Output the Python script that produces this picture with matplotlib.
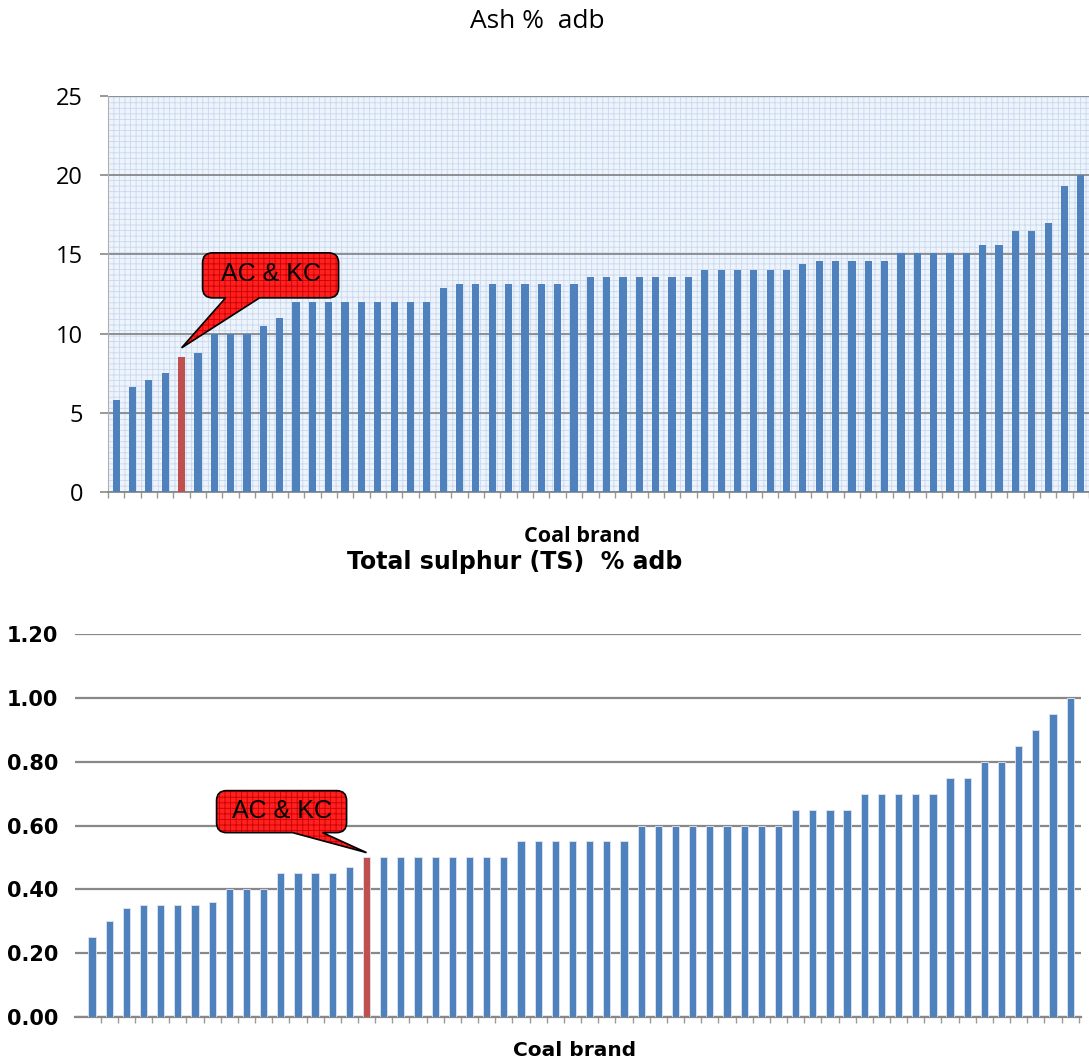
import numpy as np
import matplotlib
matplotlib.use("Agg")
import matplotlib.pyplot as plt
from matplotlib.path import Path
from matplotlib.patches import PathPatch, Rectangle
from matplotlib.transforms import ScaledTranslation, Affine2D

# ---------------- data ----------------
ash_values = [5.8, 6.6, 7.1, 7.5, 8.5, 8.8, 10.0, 10.0, 10.0, 10.5,
              11.0, 12.0, 12.0, 12.0, 12.0, 12.0, 12.0, 12.0, 12.0, 12.0,
              12.9, 13.1, 13.1, 13.1, 13.1, 13.1, 13.1, 13.1, 13.1, 13.6,
              13.6, 13.6, 13.6, 13.6, 13.6, 13.6, 14.0, 14.0, 14.0, 14.0,
              14.0, 14.0, 14.4, 14.6, 14.6, 14.6, 14.6, 14.6, 15.1, 15.1,
              15.1, 15.1, 15.1, 15.6, 15.6, 16.5, 16.5, 17.0, 19.3, 20.0]
ash_highlight = 4

ts_values = [0.25, 0.30, 0.34, 0.35, 0.35, 0.35, 0.35, 0.36, 0.40, 0.40,
             0.40, 0.45, 0.45, 0.45, 0.45, 0.47, 0.50, 0.50, 0.50, 0.50,
             0.50, 0.50, 0.50, 0.50, 0.50, 0.55, 0.55, 0.55, 0.55, 0.55,
             0.55, 0.55, 0.60, 0.60, 0.60, 0.60, 0.60, 0.60, 0.60, 0.60,
             0.60, 0.65, 0.65, 0.65, 0.65, 0.70, 0.70, 0.70, 0.70, 0.70,
             0.75, 0.75, 0.80, 0.80, 0.85, 0.90, 0.95, 1.00]
ts_highlight = 16

ash_yticks = [0, 5, 10, 15, 20, 25]
ts_yticks = [0.0, 0.2, 0.4, 0.6, 0.8, 1.0, 1.2]
ts_yticklabels = ["0.00", "0.20", "0.40", "0.60", "0.80", "1.00", "1.20"]

title_ash = "Ash %  adb"
title_ts = "Total sulphur (TS)  % adb"
xlabel = "Coal brand"
callout_text = "AC & KC"

BLUE = "#4f81bd"
RED = "#c0504d"
GRID = "#888888"

W, H, DPI = 1089, 1061, 100
plt.rcParams["hatch.linewidth"] = 0.6
fig = plt.figure(figsize=(W / DPI, H / DPI), dpi=DPI)


def callout(ax, xd, yd, box, base, text, r=10):
    """Rounded speech bubble; box/base given as pixel offsets from the tip."""
    x0, x1, y0, y1 = box
    b0, b1 = base
    verts = [(b1, y0), (x1 - r, y0), (x1, y0), (x1, y0 + r),
             (x1, y1 - r), (x1, y1), (x1 - r, y1),
             (x0 + r, y1), (x0, y1), (x0, y1 - r),
             (x0, y0 + r), (x0, y0), (x0 + r, y0),
             (b0, y0), (0, 0), (b1, y0)]
    codes = [Path.MOVETO, Path.LINETO, Path.CURVE3, Path.CURVE3,
             Path.LINETO, Path.CURVE3, Path.CURVE3,
             Path.LINETO, Path.CURVE3, Path.CURVE3,
             Path.LINETO, Path.CURVE3, Path.CURVE3,
             Path.LINETO, Path.LINETO, Path.CLOSEPOLY]
    path = Path(np.array(verts, float), codes)
    tr = Affine2D().scale(1.0 / DPI) + fig.dpi_scale_trans + \
        ScaledTranslation(xd, yd, ax.transData)
    p1 = PathPatch(path, facecolor="#ff2020", edgecolor="#c80000",
                   hatch="+++", lw=0, transform=tr, zorder=6)
    p2 = PathPatch(path, facecolor="none", edgecolor="black",
                   lw=1.2, transform=tr, zorder=7)
    fig.add_artist(p1)
    fig.add_artist(p2)
    fig.text((x0 + x1) / 2, (y0 + y1) / 2 + 1, text, transform=tr,
             ha="center", va="center", fontsize=18,
             family="Liberation Sans", color="black", zorder=8)


# ---------------- top chart: Ash ----------------
ax1 = fig.add_axes([108 / W, 1 - 492 / H, (W - 108) / W, 396 / H])
n1 = len(ash_values)
x1 = np.arange(n1)
colors1 = [RED if i == ash_highlight else BLUE for i in range(n1)]
ax1.patch.set_visible(False)
ax1.add_patch(Rectangle((0, 0), 1, 1, transform=ax1.transAxes,
                        facecolor="#eef4fb", edgecolor="#c8d8ef",
                        hatch="+++", lw=0, zorder=0))
ax1.bar(x1, ash_values, width=0.44, color=colors1, zorder=3)
ax1.set_xlim(-0.5, -0.5 + (W - 108) / 16.4)
ax1.set_ylim(0, 25)
ax1.set_yticks(ash_yticks)
ax1.set_yticklabels([str(v) for v in ash_yticks], family="Open Sans",
                    fontsize=17)
ax1.yaxis.grid(True, color=GRID, lw=1.3, zorder=1)
ax1.set_axisbelow(True)
ax1.set_xticks(np.arange(-0.5, n1, 1))
ax1.set_xticklabels([])
ax1.tick_params(axis="x", length=4, color="#999999", width=1)
ax1.tick_params(axis="y", length=6, color=GRID, width=1.2, pad=12)
for s in ["top", "right"]:
    ax1.spines[s].set_visible(False)
ax1.spines["left"].set_color("#b0b0b0")
ax1.spines["left"].set_linewidth(0.8)
ax1.spines["bottom"].set_color(GRID)
ax1.spines["bottom"].set_linewidth(1.3)

callout(ax1, ash_highlight, ash_values[ash_highlight] + 0.6,
        (21, 157, 50, 95), (44, 78), callout_text)

fig.text(537 / W, 1 - 22 / H, title_ash, ha="center", va="center",
         family="Open Sans", fontsize=19)
fig.text(582 / W, 1 - 537 / H, xlabel, ha="center", va="center",
         family="Open Sans", fontsize=15.5, fontweight="bold")

# ---------------- bottom chart: Total sulphur ----------------
ax2 = fig.add_axes([75 / W, 1 - 1017 / H, (1081 - 75) / W, 383 / H])
n2 = len(ts_values)
x2 = np.arange(n2)
colors2 = [RED if i == ts_highlight else BLUE for i in range(n2)]
ax2.bar(x2, ts_values, width=0.42, color=colors2, edgecolor="#dce6f2",
        linewidth=0.6, zorder=3)
ax2.set_xlim(-0.99, 57.63)
ax2.set_ylim(0, 1.2)
ax2.set_yticks(ts_yticks)
ax2.set_yticklabels(ts_yticklabels, family="DejaVu Sans", fontsize=15,
                    fontweight="bold")
ax2.yaxis.grid(True, color=GRID, lw=1.6, zorder=1)
ax2.set_axisbelow(True)
ax2.set_xticks(np.arange(0.5, n2, 1))
ax2.set_xticklabels([])
ax2.tick_params(axis="x", length=4, color="#999999", width=1)
ax2.tick_params(axis="y", length=0, pad=12)
for s in ["top", "right", "left"]:
    ax2.spines[s].set_visible(False)
ax2.spines["bottom"].set_color(GRID)
ax2.spines["bottom"].set_linewidth(1.6)

callout(ax2, ts_highlight, ts_values[ts_highlight] + 0.015,
        (-150, -20, 20, 62), (-74, -44), callout_text)

fig.text(515 / W, 1 - 562 / H, title_ts, ha="center", va="center",
         family="DejaVu Sans", fontsize=17, fontweight="bold")
fig.text(575 / W, 1 - 1050 / H, xlabel, ha="center", va="center",
         family="DejaVu Sans", fontsize=14.5, fontweight="bold")

fig.savefig("out.png", dpi=DPI)
